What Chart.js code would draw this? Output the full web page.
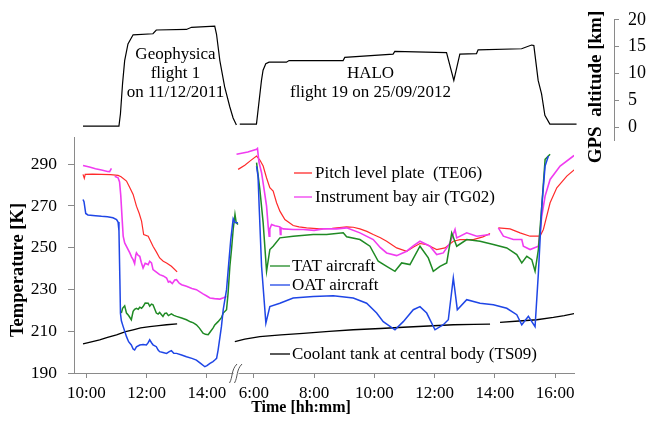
<!DOCTYPE html>
<html>
<head>
<meta charset="utf-8">
<script src="https://cdn.jsdelivr.net/npm/chart.js@4.4.1/dist/chart.umd.min.js"></script>
<style>
  body { margin: 0; background: #fff; }
  #wrap { position: relative; width: 650px; height: 423px; }
  canvas { position: absolute; left: 0; top: 0; }
</style>
</head>
<body>
<div id="wrap">
  <canvas id="tempChart" width="650" height="423"></canvas>
  <canvas id="altChart" width="650" height="423"></canvas>
</div>
<script>
// time in hours of day, temperature in K, altitude in km
// HALO times are drawn shifted to the right of the axis break
var HALO_SHIFT = 9.556;

// ---- Geophysica flight 1 (11/12/2011)
var geoAltT = [9.887, 11.08, 11.13, 11.20, 11.27, 11.38, 11.55, 12.21, 12.32, 13.32, 13.49, 14.26, 14.32, 14.43, 14.59, 14.76, 14.87, 14.98];
var geoAlt  = [0.2, 0.2, 2.5, 8.1, 12.4, 15.5, 17.2, 17.4, 18.1, 18.2, 18.6, 18.8, 17.3, 12.4, 7.5, 3.8, 1.7, 0.4];

var geoPitchT = [9.887, 9.93, 9.96, 10.2, 10.5, 10.8, 11.05, 11.15, 11.33, 11.45, 11.55, 11.66, 11.75, 11.83, 11.90, 12.05, 12.21, 12.32, 12.43, 12.55, 12.66, 12.82, 13.01];
var geoPitch  = [285.1, 283.2, 285.1, 285.2, 285.1, 285.0, 284.6, 284.0, 281.9, 278.5, 275.5, 269.9, 266.5, 262.7, 256.3, 255.5, 250.7, 248.0, 245.1, 243.5, 242.7, 241.1, 238.4];

var geoBayT = [9.887, 10.1, 10.3, 10.5, 10.7, 10.77, 10.83, 10.88, 10.94, 11.05, 11.10, 11.14, 11.18, 11.22, 11.27, 11.35, 11.44, 11.50, 11.55, 11.60, 11.64, 11.66, 11.72, 11.77, 11.82, 11.88, 11.95, 12.05, 12.10, 12.16, 12.21, 12.30, 12.43, 12.55, 12.66, 12.72, 12.77, 12.85, 12.93, 12.99, 13.08, 13.16, 13.32, 13.50, 13.65, 13.87, 13.98, 14.10, 14.25, 14.43, 14.55, 14.65];
var geoBay  = [289.4, 288.6, 287.8, 287.2, 286.5, 286.4, 288.0, null, 284.2, 283.5, 281.5, 275.0, 265.0, 255.5, 252.3, 250.0, 247.5, 245.5, 244.3, 242.4, 246.5, 247.5, 246.3, 245.9, 243.0, 240.3, 242.5, 241.9, 243.5, 242.7, 239.5, 238.5, 237.1, 236.5, 235.5, 233.5, 233.9, 232.8, 234.5, 234.7, 233.0, 232.3, 231.5, 230.5, 229.9, 227.9, 227.0, 225.9, 225.6, 225.4, 226.0, 226.6];

var geoTatT = [11.16, 11.20, 11.27, 11.33, 11.40, 11.49, 11.55, 11.60, 11.66, 11.72, 11.77, 11.83, 11.88, 11.95, 12.05, 12.10, 12.16, 12.21, 12.27, 12.32, 12.38, 12.43, 12.54, 12.60, 12.66, 12.72, 12.82, 12.90, 12.99, 13.16, 13.32, 13.45, 13.55, 13.65, 13.75, 13.87, 13.95, 14.04, 14.10, 14.20, 14.26, 14.37, 14.48, 14.54, 14.65, 14.70, 14.76, 14.82, 14.87, 14.93, 14.97, 15.03];
var geoTat  = [218.7, 221.0, 222.2, 218.7, 217.5, 215.5, 219.5, 220.5, 221.0, 220.5, 221.5, 221.0, 221.8, 223.5, 223.4, 222.0, 223.0, 222.7, 220.5, 218.7, 218.2, 219.0, 217.1, 218.5, 218.7, 217.5, 218.3, 217.6, 217.1, 216.3, 215.5, 214.5, 214.0, 213.1, 211.5, 209.1, 208.5, 208.3, 209.5, 211.5, 213.0, 214.6, 216.5, 218.7, 220.3, 228.0, 241.0, 250.0, 258.7, 265.9, 262.0, 261.1];

var geoOatT = [9.887, 9.92, 9.977, 10.05, 10.3, 10.5, 10.7, 10.88, 11.0, 11.05, 11.08, 11.11, 11.13, 11.16, 11.22, 11.33, 11.40, 11.49, 11.55, 11.60, 11.66, 11.77, 11.88, 11.99, 12.05, 12.10, 12.16, 12.21, 12.32, 12.38, 12.43, 12.54, 12.66, 12.75, 12.82, 12.90, 12.99, 13.16, 13.32, 13.50, 13.65, 13.80, 13.93, 14.00, 14.10, 14.20, 14.26, 14.32, 14.37, 14.48, 14.54, 14.65, 14.72, 14.79, 14.87, 14.93, 15.03];
var geoOat  = [273.1, 272.0, 266.4, 265.7, 265.3, 265.0, 264.8, 264.3, 263.5, 262.3, 258.0, 235.0, 218.5, 215.0, 212.2, 207.4, 205.0, 203.4, 201.5, 201.0, 202.5, 203.4, 203.6, 203.4, 204.5, 205.9, 204.5, 203.5, 202.6, 201.0, 200.2, 199.8, 199.4, 200.2, 200.7, 199.5, 199.4, 198.6, 197.8, 197.0, 196.2, 194.5, 193.0, 193.5, 194.6, 195.5, 196.2, 197.0, 201.0, 212.2, 220.3, 229.9, 242.0, 253.9, 263.9, 262.0, 261.9];

var geoTankT = [9.887, 10.2, 10.44, 10.7, 11.0, 11.3, 11.55, 11.8, 12.1, 12.4, 12.66, 13.01];
var geoTank  = [203.9, 205.0, 205.9, 207.0, 208.3, 209.8, 210.7, 211.6, 212.2, 212.7, 213.1, 213.5];

// ---- HALO flight 19 (25/09/2012)
var haloAltT = [5.535, 6.09, 6.256, 6.309, 6.399, 6.508, 7.086, 7.172, 8.966, 9.022, 10.626, 10.683, 12.40, 12.642, 12.842, 13.396, 13.449, 14.891, 15.223, 15.299, 15.442, 15.555, 15.665, 15.831, 16.717];
var haloAlt  = [0.56, 0.56, 8.7, 10.6, 11.8, 12.1, 12.1, 12.4, 12.4, 13.0, 13.6, 14.1, 13.9, 8.7, 13.6, 13.7, 14.4, 14.6, 15.3, 15.2, 8.7, 6.2, 2.2, 0.56, 0.56];

var haloPitchT = [5.479, 5.7, 5.9, 6.09, 6.2, 6.309, 6.42, 6.475, 6.531, 6.641, 6.754, 6.864, 7.03, 7.305, 7.5, 7.75, 8.192, 8.6, 9.079, 9.3, 9.52, 9.75, 9.962, 10.2, 10.407, 10.739, 11.071, 11.3, 11.513, 11.736, 12.068, 12.343, 12.619, 12.842, 13.283, 13.6, 13.838, 13.95, 14.114, 14.502, 14.834, 15.166, 15.498, 15.608, 15.831, 16.053, 16.385, 16.717];
var haloPitch  = [287.5, 289.5, 291.8, 293.9, 292.0, 289.1, 283.5, 281.1, 278.7, 277.1, 271.5, 267.5, 263.5, 260.6, 260.0, 259.5, 259.0, 259.3, 260.0, 259.8, 259.0, 257.8, 256.3, 254.8, 253.1, 249.9, 248.3, 250.3, 252.0, 251.5, 249.1, 249.9, 253.1, 253.9, 253.9, 255.2, 256.8, null, 259.5, 259.0, 257.1, 255.5, 255.5, 258.7, 271.5, 278.7, 284.3, 288.3];

var haloBayT = [5.425, 5.8, 6.09, 6.12, 6.17, 6.256, 6.35, 6.422, 6.475, 6.508, 6.53, 6.588, 6.7, 6.864, 6.88, 6.9, 6.973, 7.3, 7.637, 8.0, 8.3, 8.747, 9.079, 9.52, 9.962, 10.2, 10.407, 10.739, 11.071, 11.3, 11.513, 11.845, 12.068, 12.287, 12.51, 12.676, 12.732, 13.064, 13.396, 13.838, 13.95, 14.114, 14.28, 14.612, 14.891, 14.944, 15.166, 15.442, 15.555, 15.665, 15.831, 16.163, 16.604, 16.717];
var haloBay  = [294.7, 295.8, 297.1, 297.5, 291.0, 285.9, 277.0, 269.9, 260.3, 255.5, 259.0, 261.1, 260.5, 260.0, 256.3, 259.5, 259.0, 258.7, 258.7, 258.3, 259.0, 259.0, 259.5, 257.1, 253.9, 250.0, 247.5, 246.2, 248.3, 251.0, 253.1, 250.7, 246.7, 247.5, 252.3, 258.7, 254.7, 257.1, 255.5, 256.3, null, 259.5, 255.5, 253.9, 253.9, 250.7, 249.1, 250.7, 265.1, 274.7, 282.7, 289.1, 293.9, 294.7];

var haloTatT = [6.09, 6.199, 6.309, 6.422, 6.531, 6.641, 6.864, 7.305, 7.969, 8.414, 8.966, 9.079, 9.52, 9.853, 10.128, 10.407, 10.683, 10.905, 11.181, 11.513, 11.789, 11.955, 12.177, 12.40, 12.566, 12.732, 13.064, 13.506, 13.948, 14.393, 14.725, 14.891, 15.057, 15.223, 15.332, 15.442, 15.555, 15.665, 15.831];
var haloTat  = [290.7, 277.9, 261.9, 238.7, 249.1, 250.7, 254.7, 255.5, 256.3, 256.3, 257.1, 255.2, 253.9, 250.7, 243.5, 241.1, 238.7, 242.7, 241.9, 250.7, 245.1, 238.7, 241.1, 242.7, 257.1, 250.7, 253.9, 253.1, 251.5, 249.9, 246.7, 242.7, 245.9, 244.3, 238.7, 249.1, 269.9, 292.3, 294.7];

var haloOatT = [6.09, 6.14, 6.176, 6.256, 6.399, 6.531, 6.864, 7.305, 7.969, 8.634, 9.298, 9.743, 10.075, 10.294, 10.683, 10.958, 11.291, 11.513, 11.736, 12.011, 12.287, 12.453, 12.619, 12.752, 13.064, 13.506, 13.948, 14.393, 14.725, 14.891, 15.11, 15.332, 15.442, 15.555, 15.665, 15.774];
var haloOat  = [289.0, 284.0, 269.9, 241.1, 213.9, 221.8, 223.4, 225.9, 226.6, 227.0, 225.9, 223.4, 218.7, 214.6, 210.7, 214.6, 220.3, 221.8, 218.7, 210.7, 213.1, 215.5, 235.5, 220.3, 225.1, 223.4, 222.7, 221.0, 217.9, 213.1, 217.1, 212.2, 237.8, 269.9, 289.1, 293.9];

var haloTankT = [5.369, 5.7, 6.199, 6.9, 7.637, 8.5, 9.298, 10.2, 10.958, 11.8, 12.619, 13.3, 13.838, 13.95, 14.17, 14.8, 15.389, 15.94, 16.3, 16.717];
var haloTank  = [205.0, 206.2, 207.4, 208.3, 209.0, 209.9, 210.7, 211.3, 211.9, 212.5, 213.1, 213.3, 213.4, null, 214.2, 214.9, 215.5, 216.6, 217.5, 218.7];

var xTicks = [10, 12, 14, 6 + HALO_SHIFT, 8 + HALO_SHIFT, 10 + HALO_SHIFT, 12 + HALO_SHIFT, 14 + HALO_SHIFT, 16 + HALO_SHIFT];

function toPoints(ts, vs, shift) {
    return ts.map(function(t, i) { return {x: t + shift, y: vs[i]}; });
}
function bothFlights(gT, gV, hT, hV) {
    var geo = toPoints(gT, gV, 0);
    return geo.concat([{x: gT[gT.length - 1], y: null}], toPoints(hT, hV, HALO_SHIFT));
}

Chart.defaults.font.family = '"Liberation Serif", "Times New Roman", serif';
Chart.defaults.color = '#000';

var axisGrey = '#8a8a8a';
var red = '#ff2a2a', magenta = '#f03cf0', green = '#1f8a24', blue = '#1f46e6', black = '#000000';

var legendItems = [
    {label: 'Pitch level plate  (TE06)', color: red, x1: 294, x2: 312, tx: 315, y: 173},
    {label: 'Instrument bay air (TG02)', color: magenta, x1: 294, x2: 312, tx: 315, y: 197},
    {label: 'TAT aircraft', color: green, x1: 270, x2: 290, tx: 292, y: 266},
    {label: 'OAT aircraft', color: blue, x1: 270, x2: 290, tx: 292, y: 285},
    {label: 'Coolant tank at central body (TS09)', color: black, x1: 270, x2: 290, tx: 292, y: 354}
];

var tempDecor = {
    id: 'tempDecor',
    afterDraw: function(chart) {
        var ctx = chart.ctx;
        ctx.save();
        ctx.font = '17px "Liberation Serif"';
        ctx.textBaseline = 'middle';
        ctx.textAlign = 'left';
        legendItems.forEach(function(it) {
            ctx.strokeStyle = it.color;
            ctx.lineWidth = 1.3;
            ctx.beginPath();
            ctx.moveTo(it.x1, it.y);
            ctx.lineTo(it.x2, it.y);
            ctx.stroke();
            ctx.fillStyle = '#000';
            ctx.fillText(it.label, it.tx, it.y + 1);
        });

        // axis titles
        ctx.font = 'bold 18.5px "Liberation Serif"';
        ctx.textAlign = 'center';
        ctx.save();
        ctx.translate(18, 270);
        ctx.rotate(-Math.PI / 2);
        ctx.fillText('Temperature [K]', 0, 0);
        ctx.restore();
        ctx.font = 'bold 16px "Liberation Serif"';
        ctx.fillText('Time [hh:mm]', 301, 408);

        // axis break
        var yb = chart.chartArea.bottom;
        ctx.fillStyle = '#fff';
        ctx.beginPath();
        ctx.moveTo(230.5, yb + 9);
        ctx.lineTo(237, yb - 9);
        ctx.lineTo(242, yb - 9);
        ctx.lineTo(235.5, yb + 9);
        ctx.closePath();
        ctx.fill();
        ctx.strokeStyle = '#555';
        ctx.lineWidth = 1;
        [0, 5].forEach(function(d) {
            ctx.beginPath();
            ctx.moveTo(229.5 + d, yb + 10);
            ctx.bezierCurveTo(233 + d, yb + 4, 231 + d, yb - 3, 237 + d, yb - 9);
            ctx.stroke();
        });
        ctx.restore();
    }
};

var altDecor = {
    id: 'altDecor',
    afterDraw: function(chart) {
        var ctx = chart.ctx;
        ctx.save();
        ctx.fillStyle = '#000';
        ctx.textAlign = 'center';
        ctx.textBaseline = 'middle';
        ctx.font = '17px "Liberation Serif"';
        ctx.fillText('Geophysica', 175.5, 55);
        ctx.fillText('flight 1', 175.5, 74);
        ctx.fillText('on 11/12/2011', 175.5, 93);
        ctx.fillText('HALO', 370.5, 74);
        ctx.fillText('flight 19 on 25/09/2012', 370.5, 93);
        ctx.font = 'bold 19px "Liberation Serif"';
        ctx.translate(596, 87);
        ctx.rotate(-Math.PI / 2);
        ctx.fillText('GPS  altitude [km]', 0, 0);
        ctx.restore();
    }
};

function lineSet(label, data, color, width) {
    return {
        label: label,
        data: data,
        borderColor: color,
        backgroundColor: color,
        borderWidth: width,
        pointRadius: 0,
        tension: 0,
        fill: false,
        spanGaps: false
    };
}

new Chart(document.getElementById('tempChart').getContext('2d'), {
    type: 'line',
    data: {
        datasets: [
            lineSet('OAT aircraft', bothFlights(geoOatT, geoOat, haloOatT, haloOat), blue, 1.5),
            lineSet('Coolant tank at central body (TS09)', bothFlights(geoTankT, geoTank, haloTankT, haloTank), black, 1.3),
            lineSet('TAT aircraft', bothFlights(geoTatT, geoTat, haloTatT, haloTat), green, 1.5),
            lineSet('Instrument bay air (TG02)', bothFlights(geoBayT, geoBay, haloBayT, haloBay), magenta, 1.6),
            lineSet('Pitch level plate  (TE06)', bothFlights(geoPitchT, geoPitch, haloPitchT, haloPitch), red, 1.2)
        ]
    },
    options: {
        responsive: false,
        animation: false,
        devicePixelRatio: 1,
        layout: { padding: { left: 0, right: 76, top: 137, bottom: 0 } },
        plugins: { legend: { display: false }, tooltip: { enabled: false } },
        scales: {
            x: {
                type: 'linear',
                min: 9.588,
                max: 26.18,
                grid: { drawOnChartArea: false, drawTicks: true, tickLength: 5, color: axisGrey },
                border: { display: true, color: axisGrey, width: 1 },
                ticks: {
                    font: { size: 17 },
                    padding: 5,
                    maxRotation: 0,
                    autoSkip: false,
                    callback: function(v) {
                        var h = v < 15 ? v : v - HALO_SHIFT;
                        return Math.round(h) + ':00';
                    }
                },
                afterBuildTicks: function(scale) {
                    scale.ticks = xTicks.map(function(v) { return {value: v}; });
                },
                afterFit: function(scale) { scale.height = 50; }
            },
            y: {
                type: 'linear',
                min: 190,
                max: 303,
                grid: { drawOnChartArea: false, drawTicks: true, tickLength: 6, color: axisGrey },
                border: { display: true, color: axisGrey, width: 1 },
                ticks: {
                    font: { size: 17.5 },
                    padding: 11,
                    callback: function(v) {
                        return (Math.round(v) - 190) % 20 === 0 ? Math.round(v) : '';
                    }
                },
                afterBuildTicks: function(scale) {
                    var t = [];
                    for (var v = 190; v <= 300; v += 10) t.push({value: v});
                    scale.ticks = t;
                },
                afterFit: function(scale) { scale.width = 74; }
            }
        }
    },
    plugins: [tempDecor]
});

new Chart(document.getElementById('altChart').getContext('2d'), {
    type: 'line',
    data: {
        datasets: [
            lineSet('GPS altitude', bothFlights(geoAltT, geoAlt, haloAltT, haloAlt), black, 1.2)
        ]
    },
    options: {
        responsive: false,
        animation: false,
        devicePixelRatio: 1,
        layout: { padding: { left: 74, right: 0, top: 19, bottom: 283 } },
        plugins: { legend: { display: false }, tooltip: { enabled: false } },
        scales: {
            x: { type: 'linear', min: 9.588, max: 27.516, display: false },
            y: {
                type: 'linear',
                position: 'right',
                min: -2.4,
                max: 20,
                grid: { drawOnChartArea: false, drawTicks: true, tickLength: 5, color: axisGrey },
                border: { display: true, color: axisGrey, width: 1 },
                ticks: { font: { size: 18 }, padding: 9 },
                afterBuildTicks: function(scale) {
                    scale.ticks = [0, 5, 10, 15, 20].map(function(v) { return {value: v}; });
                },
                afterFit: function(scale) { scale.width = 36; }
            }
        }
    },
    plugins: [altDecor]
});
</script>
</body>
</html>
